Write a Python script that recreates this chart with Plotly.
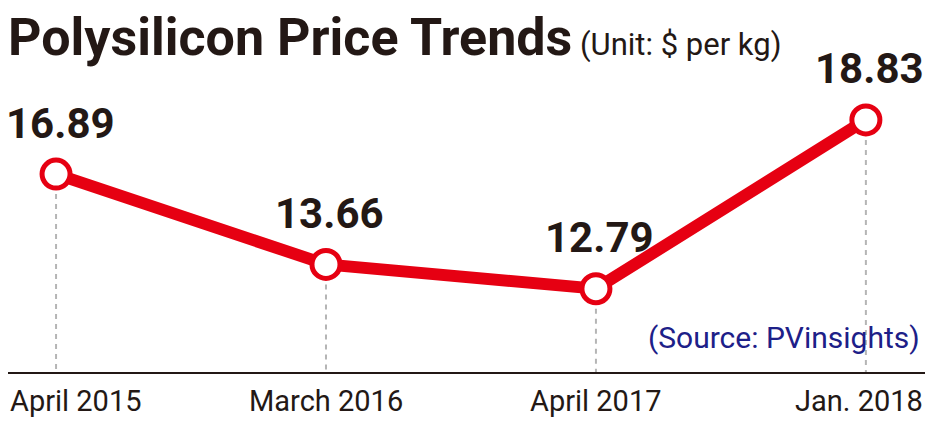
import plotly.graph_objects as go

categories = ["April 2015", "March 2016", "April 2017", "Jan. 2018"]
prices = [16.89, 13.66, 12.79, 18.83]
value_labels = ["16.89", "13.66", "12.79", "18.83"]
title_text = "Polysilicon Price Trends"
unit_text = "(Unit: $ per kg)"
source_text = "(Source: PVinsights)"

RED = "#E60012"
DARK = "#231815"
NAVY = "#1D2088"
FONT = "Roboto, 'Noto Sans', sans-serif"

W, H = 937, 424
ML, MR, MT, MB = 8, 12, 0, 52
YMIN, YMAX = 9.81, 23.12
XMIN, XMAX = -0.178, 3.219

xs = list(range(len(categories)))

fig = go.Figure()

# dashed drop lines
dx, dy = [], []
for i, v in zip(xs, prices):
    dx += [i, i, None]
    dy += [v, YMIN, None]
fig.add_trace(go.Scatter(x=dx, y=dy, mode="lines",
                         line=dict(color="#B5B5B5", width=2, dash="5px,5px"),
                         hoverinfo="skip", showlegend=False))

fig.add_trace(go.Scatter(x=xs, y=prices, mode="lines+markers",
                         line=dict(color=RED, width=12),
                         marker=dict(size=28, color="white",
                                     line=dict(color=RED, width=5)),
                         showlegend=False))

annotations = []
for i, v, t in zip(xs, prices, value_labels):
    annotations.append(dict(x=i, y=v, xref="x", yref="y", text=f"<b>{t}</b>",
                            showarrow=False, yshift=51, xshift=4,
                            font=dict(family=FONT, size=42, color=DARK)))

for i, c in enumerate(categories):
    if i == 0:
        ax, anchor = XMIN, "left"
    elif i == len(categories) - 1:
        ax, anchor = XMAX, "right"
    else:
        ax, anchor = i, "center"
    annotations.append(dict(x=ax, y=0, xref="x", yref="paper", text=c,
                            showarrow=False, xanchor=anchor, yanchor="middle",
                            yshift=-29,
                            font=dict(family=FONT, size=29, color=DARK)))

annotations.append(dict(x=0, y=1, xref="paper", yref="paper", xanchor="left",
                        yanchor="middle", yshift=-37, xshift=-2, showarrow=False,
                        text=f"<b>{title_text}</b><span style='font-size:31px'> {unit_text}</span>",
                        font=dict(family=FONT, size=52, color=DARK)))

annotations.append(dict(x=1, y=0, xref="paper", yref="paper", xanchor="right",
                        yanchor="middle", yshift=35, xshift=-3, showarrow=False,
                        text=source_text,
                        font=dict(family=FONT, size=30, color=NAVY)))

fig.update_layout(
    width=W, height=H,
    margin=dict(l=ML, r=MR, t=MT, b=MB),
    paper_bgcolor="white", plot_bgcolor="white",
    annotations=annotations,
    xaxis=dict(range=[XMIN, XMAX], showgrid=False, zeroline=False,
               showticklabels=False, showline=True, linecolor="#231815",
               linewidth=2, ticks="", fixedrange=True),
    yaxis=dict(range=[YMIN, YMAX], showgrid=False, zeroline=False,
               showticklabels=False, showline=False, fixedrange=True),
)

fig.write_html("out.html", config={"displayModeBar": False},
               post_script="document.body.style.margin='0';document.body.style.padding='0';")
